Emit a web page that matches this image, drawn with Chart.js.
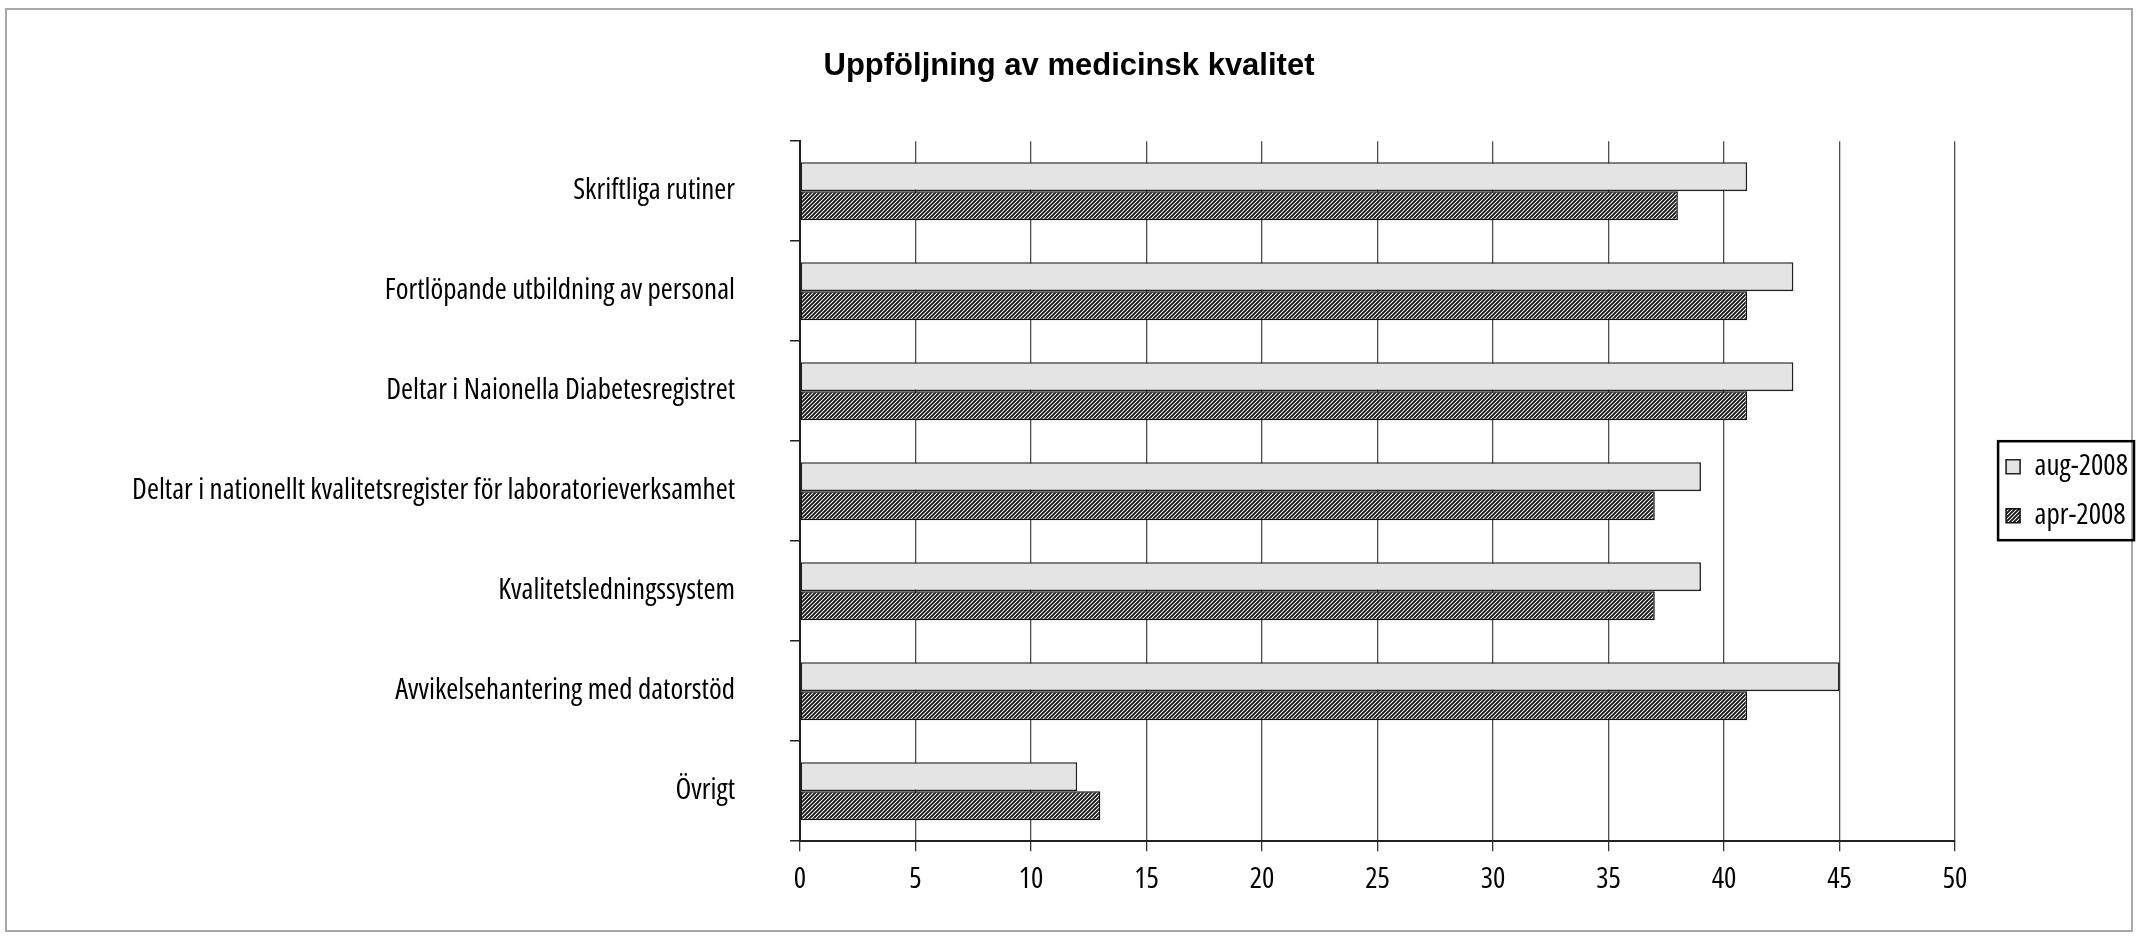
<!DOCTYPE html>
<html>
<head>
<meta charset="utf-8">
<script src="https://cdn.jsdelivr.net/npm/chart.js"></script>
<style>
  html, body { margin: 0; padding: 0; background: #fff; }
  #wrap { width: 2138px; height: 938px; }
</style>
</head>
<body>
<div id="wrap"><canvas id="myChart" width="2138" height="938"></canvas></div>
<script>
const categories = [
  'Skriftliga rutiner',
  'Fortlöpande utbildning av personal',
  'Deltar i Naionella Diabetesregistret',
  'Deltar i nationellt kvalitetsregister för laboratorieverksamhet',
  'Kvalitetsledningssystem',
  'Avvikelsehantering med datorstöd',
  'Övrigt'
]
const aug2008 = [41, 43, 43, 39, 39, 45, 12]
const apr2008 = [38, 41, 41, 37, 37, 41, 13]
const xTicks = [0, 5, 10, 15, 20, 25, 30, 35, 40, 45, 50]

// no Arial Narrow here: Open Sans with a condensed stretch comes closest
// ('condensed' sits in the weight slot so it lands in the canvas font string)
const narrowFont = { family: "'Open Sans', 'Liberation Sans', sans-serif", size: 29, weight: 'condensed' }

// diagonal hatch for the apr-2008 bars
function hatch() {
  const c = document.createElement('canvas')
  c.width = 4
  c.height = 4
  const g = c.getContext('2d')
  g.fillStyle = '#fff'
  g.fillRect(0, 0, 4, 4)
  g.strokeStyle = '#151515'
  g.lineWidth = 1.9
  g.beginPath()
  g.moveTo(-1, 5); g.lineTo(5, -1)
  g.moveTo(-1, 1); g.lineTo(1, -1)
  g.moveTo(3, 5); g.lineTo(5, 3)
  g.stroke()
  return g.createPattern(c, 'repeat')
}

const frames = {
  id: 'frames',
  beforeDraw(chart) {
    const c = chart.ctx
    c.save()
    c.fillStyle = '#fff'
    c.fillRect(0, 0, chart.width, chart.height)
    c.strokeStyle = '#a8a8a8'
    c.lineWidth = 2
    c.strokeRect(6, 9, chart.width - 12, chart.height - 16)
    c.restore()
  },
  afterDraw(chart) {
    const hb = chart.legend.legendHitBoxes
    if (!hb || !hb.length) return
    const first = hb[0]
    const last = hb[hb.length - 1]
    const c = chart.ctx
    c.save()
    c.strokeStyle = '#000'
    c.lineWidth = 2.5
    const left = first.left - 8
    const top = first.top - 11
    c.strokeRect(left, top, chart.width - 4 - left, last.top + last.height + 10 - top)
    c.restore()
  }
}

const ctx = document.getElementById('myChart')

new Chart(ctx, {
  type: 'bar',
  data: {
    labels: categories,
    datasets: [
      {
        label: 'aug-2008',
        data: aug2008,
        backgroundColor: '#e4e4e4',
        borderColor: '#222',
        borderWidth: 1.6,
        borderSkipped: false,
      },
      {
        label: 'apr-2008',
        data: apr2008,
        backgroundColor: hatch(),
        borderColor: '#111',
        borderWidth: 1.5,
        borderSkipped: false,
      },
    ],
  },
  options: {
    indexAxis: 'y',
    responsive: false,
    animation: false,
    categoryPercentage: 0.58,
    barPercentage: 1,
    layout: { padding: { top: 0, right: 0, bottom: 30, left: 0 } },
    plugins: {
      title: {
        display: true,
        text: 'Uppföljning av medicinsk kvalitet',
        color: '#000',
        font: { family: "'Liberation Sans', Arial, sans-serif", size: 31, weight: 'bold', lineHeight: 1.2 },
        padding: { top: 48, bottom: 56 },
      },
      legend: {
        position: 'right',
        align: 'center',
        fullSize: false,
        labels: {
          color: '#000',
          boxWidth: 14,
          boxHeight: 14,
          padding: 20,
          font: narrowFont,
        },
      },
      tooltip: { enabled: false },
    },
    scales: {
      x: {
        min: 0,
        max: 50,
        afterBuildTicks: (s) => { s.ticks = xTicks.map((v) => ({ value: v })) },
        grid: { color: '#4d4d4d', lineWidth: 1.3, tickLength: 10, tickColor: '#333' },
        border: { color: '#222', width: 2 },
        ticks: { color: '#000', padding: 11, font: narrowFont },
      },
      y: {
        afterFit: (s) => { s.width = 800 },
        grid: { offset: true, drawOnChartArea: false, tickLength: 10, color: '#222', lineWidth: 1.5 },
        border: { color: '#222', width: 2 },
        ticks: { color: '#000', padding: 55, font: narrowFont },
      },
      spacer: {
        type: 'linear',
        position: 'right',
        display: true,
        afterFit: (s) => { s.width = 31 },
        grid: { display: false, drawTicks: false },
        border: { display: false },
        ticks: { display: false },
      },
    },
  },
  plugins: [frames],
})
</script>
</body>
</html>
